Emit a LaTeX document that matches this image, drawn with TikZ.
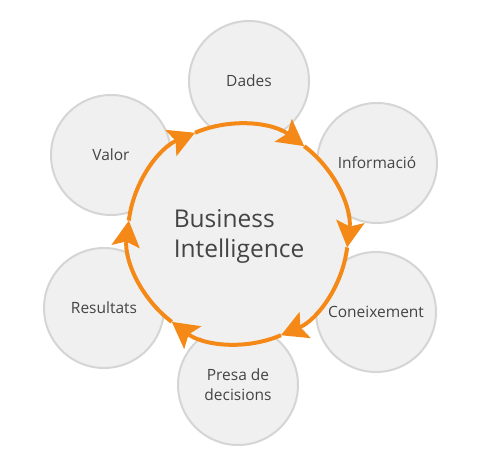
\documentclass[tikz,border=0pt]{standalone}
\usepackage{fontspec}
\setmainfont{Open Sans}
\usetikzlibrary{arrows.meta}
\definecolor{bigorange}{RGB}{245,137,24}
\definecolor{ringgray}{RGB}{213,213,213}
\definecolor{discfill}{RGB}{240,240,240}
\definecolor{labelgray}{RGB}{68,68,68}

\begin{document}
\begin{tikzpicture}[x=1pt, y=1pt, text=labelgray,
    font=\fontsize{15.5}{20}\selectfont,
    stage/.style={circle, draw=ringgray, fill=discfill, line width=2pt,
                  minimum size=120pt, inner sep=0pt, align=center},
    flowarc/.style={draw=bigorange, line width=4pt,
                    -{Stealth[length=26pt, width=28pt, inset=5pt]}}]
    \useasboundingbox (0,0) rectangle (480,-464);
    \node[stage] (dades) at (249,-81) {Dades};
    \node[stage] (info) at (377,-163) {Informació};
    \node[stage] (coneix) at (376,-312) {Coneixement};
    \node[stage] (presa) at (238,-385) {Presa de\\ decisions};
    \node[stage] (result) at (104,-308) {Resultats};
    \node[stage] (valor) at (111,-155) {Valor};
    \node[circle, fill=discfill, minimum size=220pt, inner sep=0pt,
          outer sep=0pt] (bi) at (238,-234) {};
    \node[align=left, font=\fontsize{24.5}{30}\selectfont] (title) at (239,-236)
      {Business\\ Intelligence};
    % clockwise ring
    \foreach \a in {233,173,113,53,-7,-67}
      \draw[flowarc] (bi.\a) arc[start angle=\a, delta angle=-60, radius=110pt];
\end{tikzpicture}
\end{document}
